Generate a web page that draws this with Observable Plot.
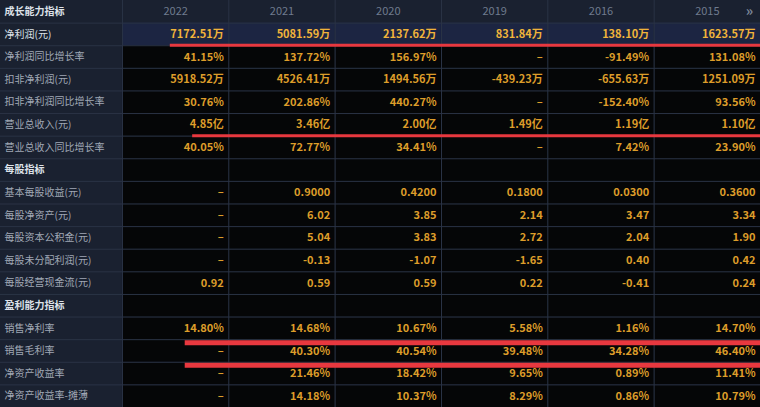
<!DOCTYPE html>
<html><head><meta charset="utf-8">
<script src="https://cdn.jsdelivr.net/npm/d3@7"></script>
<script src="https://cdn.jsdelivr.net/npm/@observablehq/plot@0.6"></script>
<style>
html,body{margin:0;padding:0;background:#1a2130;overflow:hidden;}
#chart svg{display:block}
</style>
</head><body><div id="chart"></div>
<script>
const headerLabel = "成长能力指标";
const years = ["2022","2021","2020","2019","2016","2015"];
const rowLabels = [
  "净利润(元)","净利润同比增长率","扣非净利润(元)","扣非净利润同比增长率",
  "营业总收入(元)","营业总收入同比增长率","每股指标","基本每股收益(元)",
  "每股净资产(元)","每股资本公积金(元)","每股未分配利润(元)","每股经营现金流(元)",
  "盈利能力指标","销售净利率","销售毛利率","净资产收益率","净资产收益率-摊薄"
];
const sectionRows = ["每股指标","盈利能力指标"];
const highlightRow = "净利润(元)";
const v2022 = ["7172.51万","41.15%","5918.52万","30.76%","4.85亿","40.05%","","–","–","–","–","0.92","","14.80%","–","–","–"];
const v2021 = ["5081.59万","137.72%","4526.41万","202.86%","3.46亿","72.77%","","0.9000","6.02","5.04","-0.13","0.59","","14.68%","40.30%","21.46%","14.18%"];
const v2020 = ["2137.62万","156.97%","1494.56万","440.27%","2.00亿","34.41%","","0.4200","3.85","3.83","-1.07","0.59","","10.67%","40.54%","18.42%","10.37%"];
const v2019 = ["831.84万","–","-439.23万","–","1.49亿","–","","0.1800","2.14","2.72","-1.65","0.22","","5.58%","39.48%","9.65%","8.29%"];
const v2016 = ["138.10万","-91.49%","-655.63万","-152.40%","1.19亿","7.42%","","0.0300","3.47","2.04","0.40","-0.41","","1.16%","34.28%","0.89%","0.86%"];
const v2015 = ["1623.57万","131.08%","1251.09万","93.56%","1.10亿","23.90%","","0.3600","3.34","1.90","0.42","0.24","","14.70%","46.40%","11.41%","10.79%"];
// red underline annotations: below which row, starting fraction within the 2022 column
const redRows = ["净利润(元)","营业总收入(元)"];
const redStart = [0.45, 0.66];
const redRowsThick = ["销售净利率","销售毛利率"];
const redStartThick = [0.59, 0.59];

const columns = [v2022, v2021, v2020, v2019, v2016, v2015];
const W = 760, H = 407;
const L = 1.147; // label column width in data-column units
const nRows = rowLabels.length + 1;
const rowIndex = l => rowLabels.indexOf(l) + 1;

const cells = [];
rowLabels.forEach((label, i) => {
  columns.forEach((col, j) => {
    cells.push({r: i + 1, j, label, value: col[i]});
  });
});
const rows = rowLabels.map((label, i) => ({r: i + 1, label}));

const C = {
  black: "#050607", hl: "#1c2542", grid: "#2a3345", red: "#e8383f",
  label: "#a0a8b5", labelBright: "#dde2e9", year: "#6f7b8e",
  val: "#dd9d2a", valHl: "#f1b43a"
};

const plot = Plot.plot({
  width: W, height: H,
  margin: 0,
  x: {type: "linear", domain: [0, L + years.length], range: [0, W], axis: null},
  y: {type: "linear", domain: [0, nRows], range: [0, H], axis: null},
  style: {background: "#1a2130", fontFamily: "'Noto Sans CJK SC', 'Noto Sans', sans-serif"},
  marks: [
    Plot.rect(cells.filter(d => d.label !== highlightRow), {
      x1: d => L + d.j, x2: d => L + d.j + 1, y1: d => d.r, y2: d => d.r + 1, fill: C.black
    }),
    Plot.rect(cells.filter(d => d.label === highlightRow), {
      x1: d => L + d.j, x2: d => L + d.j + 1, y1: d => d.r, y2: d => d.r + 1, fill: C.hl
    }),
    Plot.ruleY(d3.range(1, nRows), {y: d => d, x1: 0, x2: L + years.length, stroke: C.grid, strokeWidth: 1}),
    Plot.ruleX(d3.range(0, years.length), {x: d => L + d, y1: 0, y2: nRows, stroke: C.grid, strokeWidth: 1}),
    // header
    Plot.text([headerLabel], {x: 0, y: 0.5, text: d => d, textAnchor: "start", dx: 4, fill: C.labelBright, fontSize: 10, fontWeight: 600}),
    Plot.text(years, {x: (d, i) => L + i + 0.5, y: 0.5, text: d => d, fill: C.year, fontSize: 11}),
    Plot.text(["»"], {x: L + years.length, y: 0.5, text: d => d, dx: -11, fill: "#7d889a", fontSize: 14, fontWeight: 600}),
    // row labels
    Plot.text(rows.filter(d => !sectionRows.includes(d.label)), {
      x: 0, y: d => d.r + 0.5, text: "label", textAnchor: "start", dx: 4,
      fill: d => d.label === highlightRow ? C.labelBright : C.label, fontSize: 10
    }),
    Plot.text(rows.filter(d => sectionRows.includes(d.label)), {
      x: 0, y: d => d.r + 0.5, text: "label", textAnchor: "start", dx: 4, fill: C.labelBright, fontSize: 10, fontWeight: 600
    }),
    // values
    Plot.text(cells.filter(d => d.label !== highlightRow && d.value), {
      x: d => L + d.j + 1, y: d => d.r + 0.5, text: "value", textAnchor: "end", dx: -5, fill: C.val, fontSize: 11, fontWeight: 600
    }),
    Plot.text(cells.filter(d => d.label === highlightRow), {
      x: d => L + d.j + 1, y: d => d.r + 0.5, text: "value", textAnchor: "end", dx: -5, fill: C.valHl, fontSize: 11, fontWeight: 700
    }),
    // red annotation lines
    Plot.ruleY(redRows.map((l, i) => ({r: rowIndex(l) + 1, s: redStart[i]})), {
      y: "r", x1: d => L + d.s, x2: L + years.length, stroke: C.red, strokeWidth: 3, dy: -0.5
    }),
    Plot.ruleY(redRowsThick.map((l, i) => ({r: rowIndex(l) + 1, s: redStartThick[i]})), {
      y: "r", x1: d => L + d.s, x2: L + years.length, stroke: C.red, strokeWidth: 5, dy: 3
    })
  ]
});
document.getElementById("chart").append(plot);
</script>
</body></html>
